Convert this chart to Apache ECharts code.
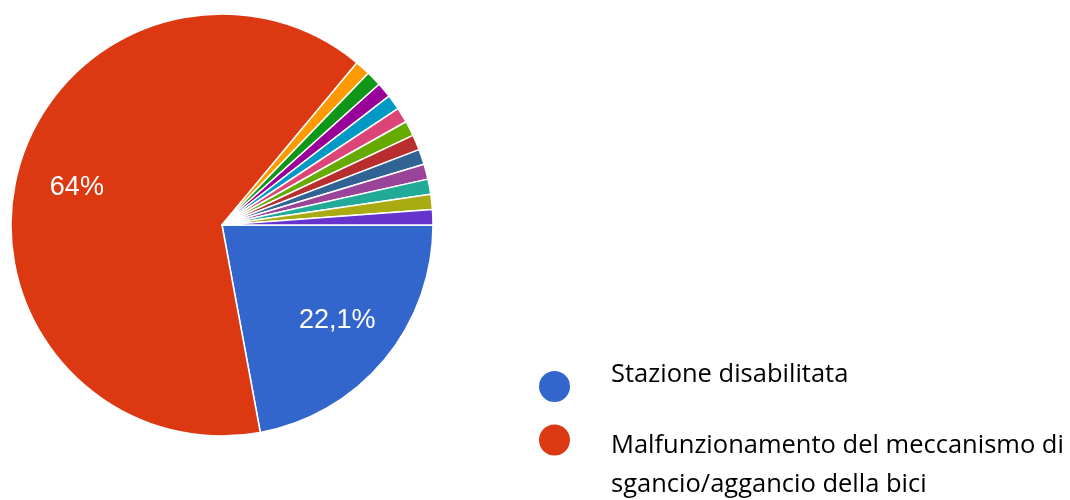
<!DOCTYPE html>
<html><head><meta charset="utf-8">
<script src="https://cdn.jsdelivr.net/npm/echarts@6/dist/echarts.min.js"></script>
<style>html,body{margin:0;padding:0;background:#fff}#c{width:1070px;height:500px}</style>
</head><body><div id="c"></div>
<script>
const categories = [
  'Stazione disabilitata',
  'Malfunzionamento del meccanismo di sgancio/aggancio della bici',
  'Altro 3','Altro 4','Altro 5','Altro 6','Altro 7','Altro 8',
  'Altro 9','Altro 10','Altro 11','Altro 12','Altro 13','Altro 14'
];
const counts = [19, 55, 1, 1, 1, 1, 1, 1, 1, 1, 1, 1, 1, 1];
const colors = ['#3366cc','#dc3912','#ff9900','#109618','#990099','#0099c6','#dd4477',
  '#66aa00','#b82e2e','#316395','#994499','#22aa99','#aaaa11','#6633cc'];
const legendLines = [
  ['Stazione disabilitata'],
  ['Malfunzionamento del meccanismo di', 'sgancio/aggancio della bici']
];

const total = counts.reduce((a, b) => a + b, 0);
const data = categories.map((n, i) => ({ name: n, value: counts[i], itemStyle: { color: colors[i] } }));
const fmtPct = p => {
  const v = Math.round(p * 1000) / 10;
  return (Number.isInteger(v) ? String(v) : v.toFixed(1).replace('.', ',')) + '%';
};
const labelData = categories.map((n, i) => ({
  name: n, value: counts[i],
  label: { show: counts[i] / total > 0.05 }
}));

const legendText = { fontFamily: 'Open Sans', fontSize: 25.5, color: '#000', lineHeight: 39 };
const chart = echarts.init(document.getElementById('c'));
chart.setOption({
  animation: false,
  legend: [
    {
      data: [{ name: categories[0], icon: 'circle' }],
      left: 537, top: 361.5, padding: 0, orient: 'vertical',
      itemWidth: 33, itemHeight: 33, selectedMode: false,
      formatter: () => legendLines[0].map(s => '{t|' + s + '}').join('\n') + '\n{e| }',
      textStyle: {
        padding: [0, 0, 0, 35],
        rich: { t: legendText, e: { fontSize: 10, lineHeight: 24 } }
      }
    },
    {
      data: [{ name: categories[1], icon: 'circle' }],
      left: 537, top: 396, padding: 0, orient: 'vertical',
      itemWidth: 33, itemHeight: 33, selectedMode: false,
      formatter: () => '{e| }\n' + legendLines[1].map(s => '{t|' + s + '}').join('\n'),
      textStyle: {
        padding: [0, 0, 0, 35],
        rich: { t: legendText, e: { fontSize: 10, lineHeight: 51 } }
      }
    }
  ],
  series: [
    {
      type: 'pie', center: [222, 225], radius: [0, 211],
      startAngle: 0, clockwise: true,
      itemStyle: { borderColor: '#fff', borderWidth: 1.5 },
      label: { show: false }, labelLine: { show: false },
      emphasis: { disabled: true },
      data: data
    },
    {
      type: 'pie', center: [222, 225], radius: [0, 294],
      startAngle: 0, clockwise: true, silent: true,
      itemStyle: { color: 'rgba(0,0,0,0)' },
      label: {
        position: 'inside', color: '#fff', fontFamily: 'Arial, Liberation Sans', fontSize: 27,
        formatter: p => fmtPct(p.value / total)
      },
      labelLine: { show: false },
      emphasis: { disabled: true },
      data: labelData
    }
  ]
});
</script></body></html>
